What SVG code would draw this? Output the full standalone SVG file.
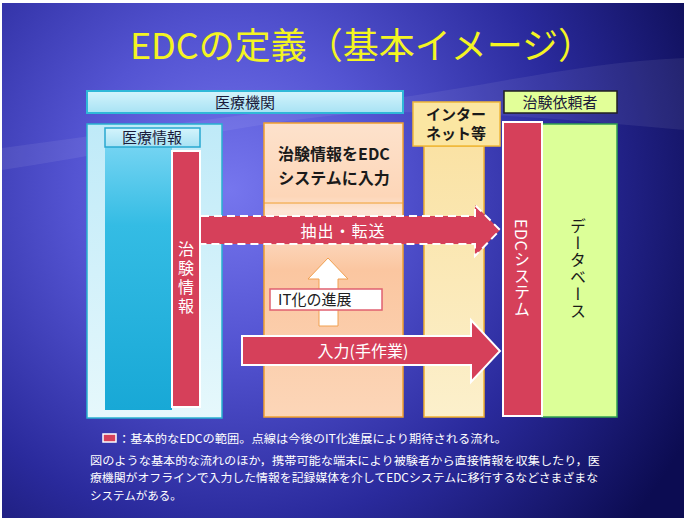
<svg xmlns="http://www.w3.org/2000/svg" width="684" height="518" viewBox="0 0 684 518">
  <defs>
    <radialGradient id="bg" cx="230" cy="190" r="520" gradientUnits="userSpaceOnUse">
      <stop offset="0" stop-color="#7676ee"/>
      <stop offset="0.3" stop-color="#5454d2"/>
      <stop offset="0.65" stop-color="#2a2a9c"/>
      <stop offset="1" stop-color="#0c0c52"/>
    </radialGradient>
    <linearGradient id="leftPanel" x1="0" y1="0" x2="0" y2="1">
      <stop offset="0" stop-color="#bfeaf8"/>
      <stop offset="1" stop-color="#e6f8fc"/>
    </linearGradient>
    <linearGradient id="header" x1="0" y1="0" x2="0" y2="1">
      <stop offset="0" stop-color="#d4f4fc"/>
      <stop offset="1" stop-color="#a8e2f4"/>
    </linearGradient>
    <linearGradient id="cyan" x1="0" y1="0" x2="0" y2="1">
      <stop offset="0" stop-color="#74d4f2"/>
      <stop offset="0.3" stop-color="#34bce4"/>
      <stop offset="1" stop-color="#18a8d6"/>
    </linearGradient>
    <linearGradient id="orange" x1="0" y1="0" x2="0" y2="1">
      <stop offset="0" stop-color="#fde2cc"/>
      <stop offset="0.25" stop-color="#fdd6b8"/>
      <stop offset="0.3" stop-color="#fde6d6"/>
      <stop offset="0.5" stop-color="#fbc6a0"/>
      <stop offset="1" stop-color="#fcd6b8"/>
    </linearGradient>
    <linearGradient id="inet" x1="0" y1="0" x2="0" y2="1">
      <stop offset="0" stop-color="#fae2a4"/>
      <stop offset="1" stop-color="#fcf0cc"/>
    </linearGradient>
    <style>
      .jp { font-family: "Noto Sans CJK JP", "Noto Sans", sans-serif; }
      .hdr { font-size: 15px; fill: #1a1a3a; text-anchor: middle; }
      .red { fill: #d6405a; stroke: #ffffff; stroke-width: 2; }
      .wtxt { fill: #ffffff; font-size: 16px; text-anchor: middle; }
      .vert { writing-mode: vertical-rl; }
      .note { fill: #ffffff; font-size: 11.5px; }
    </style>
  </defs>

  <!-- background -->
  <rect x="0" y="0" width="684" height="518" fill="#ffffff"/>
  <rect x="2" y="3" width="682" height="515" fill="url(#bg)"/>
  <path d="M2,148 C140,130 260,110 380,100 C480,88 580,62 684,58 L684,130 C580,120 480,112 380,112 C260,118 140,150 2,170 Z" fill="#ffffff" opacity="0.07"/>

  <!-- title -->
  <text id="title" class="jp" x="362" y="59" font-size="36" fill="#f4f422" text-anchor="middle">EDCの定義（基本イメージ）</text>

  <!-- 医療機関 header -->
  <g id="iryokikan">
    <rect x="87" y="91" width="316" height="22" fill="url(#header)" stroke="#30b8d8" stroke-width="2"/>
    <text class="jp hdr" x="245" y="108" font-size="16">医療機関</text>
  </g>

  <!-- left panel: 医療情報 -->
  <g id="iryojoho">
    <rect x="87" y="124" width="135" height="294" fill="url(#leftPanel)" stroke="#28b0d0" stroke-width="1.5"/>
    <rect x="105" y="146" width="67" height="264" fill="url(#cyan)"/>
    <rect x="105" y="128" width="95" height="19" fill="url(#header)" stroke="#28a8d0" stroke-width="1.5"/>
    <text class="jp hdr" x="152" y="143">医療情報</text>
  </g>

  <!-- red bar 治験情報 -->
  <g id="chikenjoho">
    <rect class="red" x="172" y="151" width="28" height="256"/>
    <text class="jp wtxt vert" x="186" y="279" letter-spacing="3">治験情報</text>
  </g>

  <!-- orange panel -->
  <g id="nyuryoku-panel">
    <rect x="264" y="123" width="139" height="294" fill="url(#orange)" stroke="#f0a030" stroke-width="1.5"/>
    <line x1="264" y1="203" x2="403" y2="203" stroke="#f0a030" stroke-width="1"/>
    <text class="jp" x="334" y="160" font-size="16" font-weight="bold" fill="#1a1a1a" text-anchor="middle">治験情報をEDC</text>
    <text class="jp" x="334" y="184" font-size="16" font-weight="bold" fill="#1a1a1a" text-anchor="middle">システムに入力</text>
  </g>

  <!-- internet -->
  <g id="internet">
    <rect x="424" y="146" width="60" height="271" fill="url(#inet)" stroke="#f0b030" stroke-width="1.5"/>
    <rect x="413" y="102" width="87" height="44" fill="#fbe6a2" stroke="#f0b838" stroke-width="1.5"/>
    <text class="jp" font-size="15" font-weight="bold" fill="#1a1a1a" text-anchor="middle"><tspan x="456" y="120">インター</tspan><tspan x="456" y="139">ネット等</tspan></text>
  </g>

  <!-- 治験依頼者 -->
  <g id="irai">
    <rect x="504" y="91" width="113" height="22" fill="#e2ff98" stroke="#202020" stroke-width="1.5"/>
    <text class="jp hdr" x="560" y="108">治験依頼者</text>
  </g>

  <!-- database -->
  <g id="database">
    <rect x="542" y="124" width="75" height="293" fill="#dcff98" stroke="#30a050" stroke-width="1.5"/>
    <text class="jp vert" x="578" y="218" font-size="16" fill="#1a1a1a" letter-spacing="1">データベース</text>
  </g>

  <!-- EDC system -->
  <g id="edc">
    <rect class="red" x="503" y="122" width="39" height="294"/>
    <text class="jp vert" x="522" y="219" font-size="16" fill="#ffffff" letter-spacing="0.5">EDCシステム</text>
  </g>

  <!-- connectors -->
  <g id="connectors">
    <g id="chushutsu">
      <path d="M201,216 H475 V205 L500,230 L475,256 V244 H201 Z" fill="#d6405a"/>
      <path d="M201,216 H475 V205 L500,230 L475,256 V244 H201" fill="none" stroke="#ffffff" stroke-width="2" stroke-dasharray="8,5"/>
      <text class="jp wtxt" x="343" y="237" letter-spacing="1">抽出・転送</text>
    </g>
    <g id="itka">
      <path d="M319,326 V279 H308 L328,258 L348,279 H338 V326 Z" fill="#ffffff" stroke="#f0a050" stroke-width="1"/>
      <rect x="270" y="289" width="112" height="21" fill="#ffffff" stroke="#e06070" stroke-width="1.5"/>
      <text class="jp" x="278" y="305" font-size="15" fill="#202020">IT化の進展</text>
    </g>
    <g id="shusagyo">
      <path d="M242,336 H471 V320 L500,351 L471,382 V365 H242 Z" class="red"/>
      <text class="jp wtxt" x="363" y="357" font-size="17">入力(手作業)</text>
    </g>
  </g>

  <!-- legend / notes -->
  <g id="legend">
    <rect x="103" y="434" width="13" height="8" fill="#d6405a" stroke="#ffffff" stroke-width="1.5"/>
    <text class="jp note" x="118" y="443" font-size="12" textLength="389" lengthAdjust="spacingAndGlyphs">：基本的なEDCの範囲。点線は今後のIT化進展により期待される流れ。</text>
  </g>
  <g id="notes">
    <text class="jp note" x="90" y="464.5" textLength="510" lengthAdjust="spacingAndGlyphs">図のような基本的な流れのほか，携帯可能な端末により被験者から直接情報を収集したり，医</text>
    <text class="jp note" x="90" y="481.5" textLength="508" lengthAdjust="spacingAndGlyphs">療機関がオフラインで入力した情報を記録媒体を介してEDCシステムに移行するなどさまざまな</text>
    <text class="jp note" x="90" y="499.5">システムがある。</text>
  </g>
</svg>
